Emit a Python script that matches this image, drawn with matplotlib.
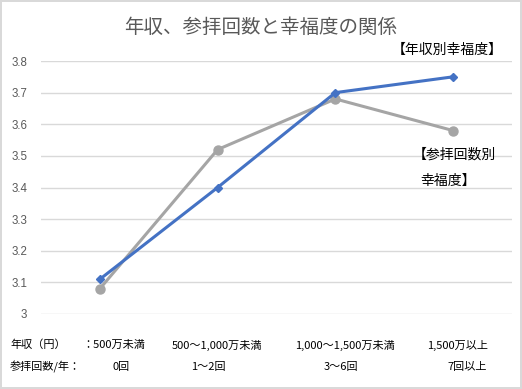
import matplotlib.pyplot as plt

plt.rcParams['font.family'] = ['Noto Sans CJK JP', 'DejaVu Sans']

# data
categories = ["500万未満", "500～1,000万未満", "1,000～1,500万未満", "1,500万以上"]
visits = ["0回", "1～2回", "3～6回", "7回以上"]
income_happiness = [3.11, 3.40, 3.70, 3.75]
visit_happiness = [3.08, 3.52, 3.68, 3.58]
yticks = [3, 3.1, 3.2, 3.3, 3.4, 3.5, 3.6, 3.7, 3.8]

W, H = 522, 389
fig = plt.figure(figsize=(W / 100, H / 100), dpi=100)
fig.patch.set_edgecolor("#D9D9D9")
fig.patch.set_linewidth(1.5)

ax = fig.add_axes([41 / W, 1 - 314 / H, 471 / W, 253 / H])
x = range(len(categories))

ax.plot(x, visit_happiness, color="#A5A5A5", lw=2.2, marker="o", ms=6.5, zorder=3)
ax.plot(x, income_happiness, color="#4472C4", lw=2.2, marker="D", ms=4.5, zorder=4)

ax.set_xlim(-0.5, 3.5)
ax.set_ylim(3.0, 3.8)
ax.set_yticks(yticks)
ax.set_yticklabels([f"{v:g}" for v in yticks], color="#595959", fontsize=8.3,
                   family=["Liberation Sans"])
ax.tick_params(axis="y", length=0, pad=10)
ax.set_xticks([])
ax.grid(axis="y", color="#D9D9D9", lw=1)
ax.set_axisbelow(True)
for s in ax.spines.values():
    s.set_visible(False)

fig.text(261 / W, 1 - 27 / H, "年収、参拝回数と幸福度の関係", ha="center", va="center",
         fontsize=14, color="#595959")

ax.text(503 / W, 1 - 50 / H, "【年収別幸福度】", transform=fig.transFigure,
        ha="right", va="center", fontsize=10, color="black")
ax.text(454 / W, 1 - 155 / H, "【参拝回数別", transform=fig.transFigure,
        ha="center", va="center", fontsize=10, color="black")
ax.text(448 / W, 1 - 181 / H, "幸福度】", transform=fig.transFigure,
        ha="center", va="center", fontsize=10, color="black")

# bottom category rows
fs = 8
y1 = 1 - 345 / H
y2 = 1 - 367 / H
fig.text(10 / W, y1, "年収（円）", ha="left", va="center", fontsize=fs)
fig.text(82 / W, y1, "：" + categories[0], ha="left", va="center", fontsize=fs)
fig.text(217 / W, y1, categories[1], ha="center", va="center", fontsize=fs)
fig.text(345 / W, y1, categories[2], ha="center", va="center", fontsize=fs)
fig.text(488 / W, y1, categories[3], ha="right", va="center", fontsize=fs)

fig.text(10 / W, y2, "参拝回数/年：", ha="left", va="center", fontsize=fs)
fig.text(121 / W, y2, visits[0], ha="center", va="center", fontsize=fs)
fig.text(208 / W, y2, visits[1], ha="center", va="center", fontsize=fs)
fig.text(341 / W, y2, visits[2], ha="center", va="center", fontsize=fs)
fig.text(487 / W, y2, visits[3], ha="right", va="center", fontsize=fs)

fig.savefig("out.png", dpi=100, edgecolor=fig.get_edgecolor())
